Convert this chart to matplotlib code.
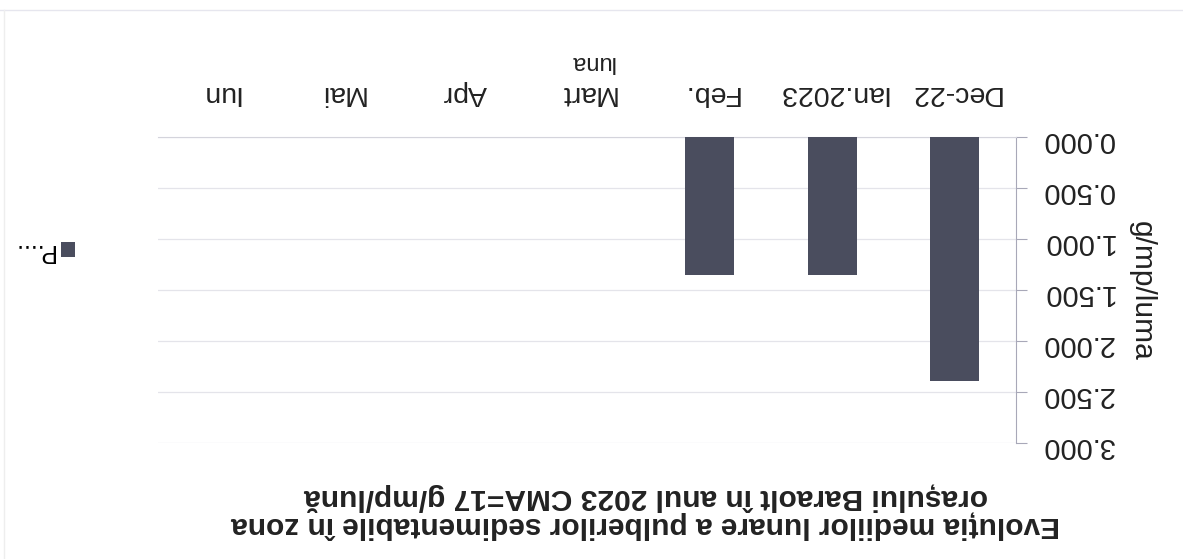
import numpy as np
import matplotlib.pyplot as plt
from matplotlib.lines import Line2D

# the scanned chart is upside down, so everything is drawn rotated by 180 degrees
luni = ['Dec-22', 'Ian.2023', 'Feb.', 'Mart', 'Apr', 'Mai', 'Iun']
valori = [2.39, 1.35, 1.35, 0, 0, 0, 0]
yticks = [0.0, 0.5, 1.0, 1.5, 2.0, 2.5, 3.0]
titlu = ('Evoluția mediilor lunare a pulberilor sedimentabile în zona\n'
         'orașului Baraolt în anul 2023 CMA=17 g/mp/lună')

plt.rcParams['font.family'] = ['Liberation Sans', 'DejaVu Sans']

W, H = 1183, 559
fig = plt.figure(figsize=(W / 100, H / 100), dpi=100)
ax = fig.add_axes([158 / W, (H - 443) / H, (1016 - 158) / W, (443 - 137) / H])

x = np.arange(len(luni))
bars = ax.bar(x[:3], valori[:3], width=0.4, color='#4a4d5e', label='P....', zorder=3)

ax.set_xlim(len(luni) - 0.5, -0.5)
ax.set_ylim(3.0, 0.0)

ax.yaxis.tick_right()
ax.set_yticks(yticks)
ax.set_yticklabels(['%.3f' % v for v in yticks], rotation=180, fontsize=21, color='#222222')
ax.tick_params(axis='y', length=8, width=0.8, color='#a8a8b8', pad=10)

ax.xaxis.tick_top()
ax.set_xticks(x)
ax.set_xticklabels(luni, rotation=180, fontsize=20.5, color='#222222')
ax.tick_params(axis='x', length=0, pad=22)

ax.grid(axis='y', color='#e4e4ea', linewidth=0.9, zorder=0)
for s in ['left', 'bottom']:
    ax.spines[s].set_visible(False)
ax.spines['right'].set_color('#a8a8b8')
ax.spines['top'].set_color('#d4d4dc')

fig.text(1142 / W, 1 - 291 / H, 'g/mp/luma', rotation=270, fontsize=21.5,
         ha='center', va='center', color='#222222')
fig.text(592 / W, 1 - 62 / H, 'luna', rotation=180, fontsize=17,
         ha='center', va='center', color='#222222')
fig.text(646 / W, 1 - 511 / H, titlu, rotation=180, fontsize=21.5, fontweight='bold',
         ha='center', va='center', multialignment='center', color='#222222',
         linespacing=0.98)

leg = ax.legend(loc='center', bbox_to_anchor=(44 / W, 1 - 251 / H),
                bbox_transform=fig.transFigure, frameon=False, markerfirst=False,
                fontsize=18, handlelength=0.55, handleheight=0.55, handletextpad=0.3)
for t in leg.get_texts():
    t.set_rotation(180)

# faint border of the scanned chart area
fig.add_artist(Line2D([0, 1], [1 - 10 / H, 1 - 10 / H], color='#e6e6ee', lw=1))
fig.add_artist(Line2D([4 / W, 4 / W], [0, 1 - 10 / H], color='#eeeeee', lw=1))

fig.savefig('out.png', dpi=100)
